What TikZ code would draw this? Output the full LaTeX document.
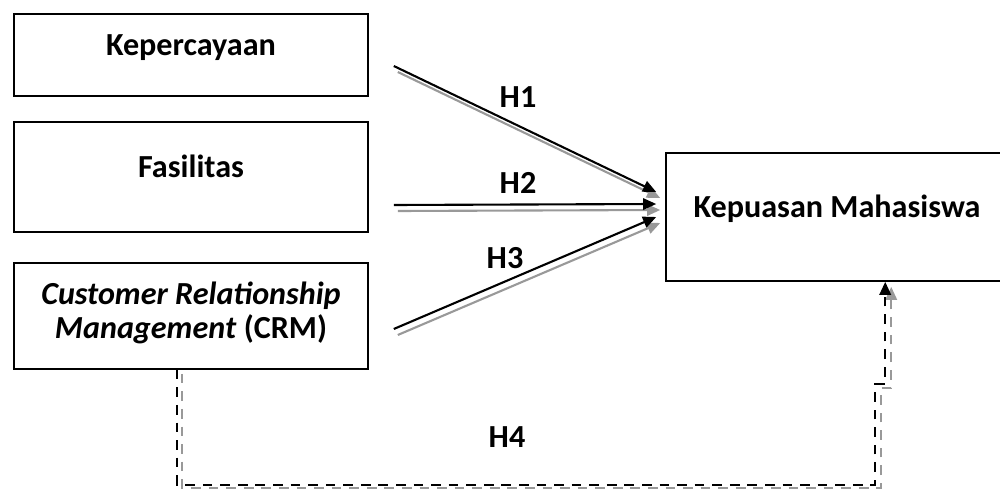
\documentclass[tikz,border=0pt]{standalone}
\usepackage{fontspec}
\setmainfont{Carlito}
\usetikzlibrary{arrows.meta,calc}
\tikzset{
  box/.style={draw,line width=0.9pt,rectangle,inner sep=0pt},
  lbl/.style={font=\fontsize{18.3}{19.3}\selectfont\bfseries,align=center,inner sep=0pt},
  mainline/.style={line width=1.2pt,black,-{Triangle[length=7.5pt,width=6.5pt]}},
  shadowline/.style={line width=1.2pt,black!40,-{Triangle[length=7.5pt,width=6.5pt]}},
  dashline/.style={line width=1.4pt,dash pattern=on 5.5pt off 4.5pt}
}
\begin{document}
\begin{tikzpicture}[x=0.02cm,y=-0.02cm]
    \useasboundingbox (0,0) rectangle (1000,489);

    % variabel bebas
    \node [box,minimum width=354*0.02cm,minimum height=82*0.02cm] (kep) at (191,55) {};
    \node [box,minimum width=354*0.02cm,minimum height=110*0.02cm] (fas) at (191,177) {};
    \node [box,minimum width=354*0.02cm,minimum height=106*0.02cm] (crm) at (191,316) {};
    % variabel terikat
    \node [box,minimum width=336*0.02cm,minimum height=128*0.02cm] (kmhs) at (834,217) {};

    \node [lbl] (kepT) at (191,48) {Kepercayaan};
    \node [lbl] (fasT) at (191,166) {Fasilitas};
    \node [lbl] (crmT) at (191,313) {\textit{Customer Relationship}\\\textit{Management} (CRM)};
    \node [lbl] (kmhsT) at (837,209) {Kepuasan Mahasiswa};

    % H1 - H3
    \foreach \src/\sdy/\tdy in {kep/11/-25,fas/28/-13,crm/13/0} {
        \draw [shadowline] ($(\src.east)+(29,\sdy+6)$) -- ($(kmhs.west)+(-5,\tdy+6)$);
        \draw [mainline] ($(\src.east)+(25,\sdy)$) -- ($(kmhs.west)+(-9,\tdy)$);
    }
    \node [lbl] (h1) at (518,97) {H1};
    \node [lbl] (h2) at (518,183) {H2};
    \node [lbl] (h3) at (505,258) {H3};

    % H4
    \coordinate (crmOut) at ($(crm.south west)+(164,0)$);
    \coordinate (kmhsIn) at ($(kmhs.south west)+(220,0)$);
    \draw [shadowline,dashline] ($(crmOut)+(5,4)$) |- ($(kmhsIn)+(-4,206)$) -- ($(kmhsIn)+(-4,106)$)
        -- ($(kmhsIn)+(6,106)$) -- ($(kmhsIn)+(6,5)$);
    \draw [mainline,dashline] (crmOut) |- ($(kmhsIn)+(-10,203)$) -- ($(kmhsIn)+(-10,102)$)
        -- ($(kmhsIn)+(0,102)$) -- (kmhsIn);
    \node [lbl] (h4) at (507,437) {H4};
\end{tikzpicture}
\end{document}
